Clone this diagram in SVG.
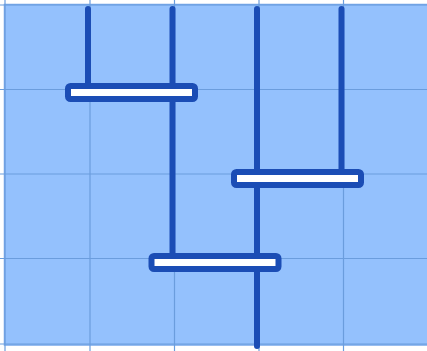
<svg xmlns="http://www.w3.org/2000/svg" width="427" height="351" viewBox="0 0 427 351">
<style>
.grid{stroke:#6b9ddd;stroke-width:1.2;fill:none}
.wire{stroke:#1b4db5;stroke-width:6;stroke-linecap:round;fill:none}
.bar{fill:#ffffff;stroke:#1b4db5;stroke-width:6}
</style>
<rect x="0" y="0" width="427" height="351" fill="#ffffff"/>
<rect x="4.5" y="4.5" width="430" height="340.5" fill="#94c1fd" stroke="#78a8ea" stroke-width="1.5"/>
<g id="grid">
<line class="grid" x1="5" y1="0" x2="5" y2="351"/>
<line class="grid" x1="90" y1="0" x2="90" y2="351"/>
<line class="grid" x1="174.5" y1="0" x2="174.5" y2="351"/>
<line class="grid" x1="259" y1="0" x2="259" y2="351"/>
<line class="grid" x1="343.5" y1="0" x2="343.5" y2="351"/>
<line class="grid" x1="0" y1="5" x2="427" y2="5"/>
<line class="grid" x1="0" y1="89.5" x2="427" y2="89.5"/>
<line class="grid" x1="0" y1="174" x2="427" y2="174"/>
<line class="grid" x1="0" y1="258.5" x2="427" y2="258.5"/>
<line class="grid" x1="0" y1="344" x2="427" y2="344"/>
</g>
<g id="connectors">
<line class="wire" x1="88" y1="9" x2="88" y2="92"/>
<line class="wire" x1="172.5" y1="9" x2="172.5" y2="262"/>
<line class="wire" x1="257" y1="9" x2="257" y2="346"/>
<line class="wire" x1="341.5" y1="9" x2="341.5" y2="178"/>
</g>
<g id="bar1"><rect class="bar" x="68" y="86" width="127" height="13" rx="2.5"/></g>
<g id="bar2"><rect class="bar" x="234" y="172" width="127" height="13" rx="2.5"/></g>
<g id="bar3"><rect class="bar" x="151.5" y="256" width="127" height="13" rx="2.5"/></g>
</svg>
